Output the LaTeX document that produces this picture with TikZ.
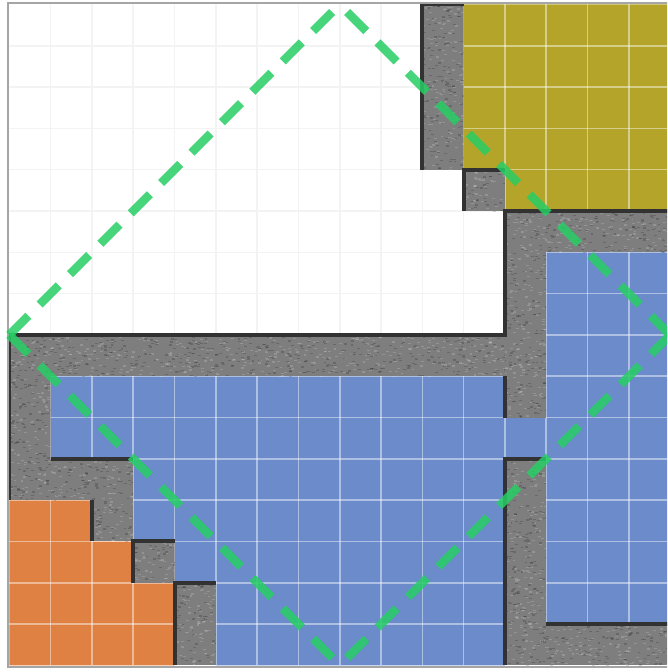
\documentclass[tikz,border=0pt]{standalone}
\definecolor{mapyellow}{RGB}{180,165,42}
\definecolor{mapblue}{RGB}{107,139,203}
\definecolor{maporange}{RGB}{223,129,66}
\definecolor{mapgray}{RGB}{126,126,126}
\definecolor{walldark}{RGB}{50,50,50}
\definecolor{pathgreen}{RGB}{38,206,100}
\definecolor{lightgrid}{RGB}{243,243,243}
\definecolor{framegray}{RGB}{165,165,165}
\newcommand{\graytex}[5]{%
  \begin{scope}
    \clip (#1,#2) rectangle (#3,#4);
    \fill[mapgray] (#1,#2) rectangle (#3,#4);
    \foreach \k in {1,...,#5}{%
      \pgfmathsetmacro{\rx}{#1-0.05+rnd*(#3-#1+0.05)}%
      \pgfmathsetmacro{\ry}{#2+rnd*(#4-#2)}%
      \pgfmathsetmacro{\rs}{rnd}%
      \ifdim\rs pt<0.5pt \def\tc{black}\else\def\tc{white}\fi
      \fill[\tc, opacity=0.17] (\rx,\ry) rectangle ++(0.07,0.03);
    }
  \end{scope}}
\begin{document}
\begin{tikzpicture}[x=1cm,y=-1cm,
  wall/.style={draw=walldark, line width=2.76pt, line join=miter},
  colgrid/.style={draw=white, draw opacity=0.45, line width=1.1pt},
  whitegrid/.style={draw=lightgrid, line width=1.1pt},
  route/.style={draw=pathgreen, draw opacity=0.85, line width=5.86pt, dash pattern=on 18.6pt off 11pt}]
\pgfmathsetseed{11}
\useasboundingbox (-0.2252,-0.109) rectangle (15.925,16.162);
\clip (-0.2252,-0.109) rectangle (15.925,16.162);
\fill[white] (-0.2252,-0.109) rectangle (15.925,16.162);

% coloured areas
\fill[mapyellow] (11,0) -- (16,0) -- (16,5) -- (12,5) -- (12,4) -- (11,4) -- cycle;
\fill[mapblue] (13,6) rectangle (16,15);
\fill[mapblue] (1,9) -- (12,9) -- (12,10) -- (13,10) -- (13,11) -- (12,11) -- (12,16) -- (5,16) -- (5,14) -- (4,14) -- (4,13) -- (3,13) -- (3,11) -- (1,11) -- cycle;
\fill[maporange] (0,12) -- (2,12) -- (2,13) -- (3,13) -- (3,14) -- (4,14) -- (4,16) -- (0,16) -- cycle;

% grid on coloured areas
\foreach \i in {1,...,15}{
  \draw[colgrid] (\i,0) -- (\i,16);
  \draw[colgrid] (0,\i) -- (16,\i);
}
% grid on the empty area
\begin{scope}
  \clip (0,0) -- (10,0) -- (10,4) -- (11,4) -- (11,5) -- (12,5) -- (12,8) -- (0,8) -- cycle;
  \fill[white] (0,0) rectangle (12,8);
  \foreach \i in {1,...,11}{ \draw[whitegrid] (\i,0) -- (\i,8); }
  \foreach \i in {1,...,7}{ \draw[whitegrid] (0,\i) -- (12,\i); }
\end{scope}

% walls (gray)
\graytex{10}{0}{11}{4}{280}
\graytex{11}{4}{12}{5}{70}
\graytex{12}{5}{16}{6}{280}
\graytex{12}{6}{13}{10}{280}
\graytex{0}{8}{12}{9}{840}
\graytex{0}{9}{1}{11}{140}
\graytex{0}{11}{3}{12}{210}
\graytex{2}{12}{3}{13}{70}
\graytex{3}{13}{4}{14}{70}
\graytex{4}{14}{5}{16}{140}
\graytex{12}{11}{13}{16}{350}
\graytex{13}{15}{16}{16}{210}

% dark wall edges
\draw[wall] (10,4) -- (10,0) -- (11,0);
\draw[wall] (11,5) -- (11,4) -- (12,4);
\draw[wall] (0,12) -- (0,8) -- (12,8) -- (12,5) -- (16.2,5);
\draw[wall] (1,11) -- (3,11);
\draw[wall] (2,13) -- (2,12);
\draw[wall] (3,14) -- (3,13) -- (4,13);
\draw[wall] (4,16) -- (4,14) -- (5,14);
\draw[wall] (12,10) -- (12,9);
\draw[wall] (12,16) -- (12,11) -- (13,11);
\draw[wall] (13,15) -- (16.2,15);

% frame
\draw[framegray, line width=1.4pt] (-0.03,-0.03) rectangle (16.03,16.03);

% route
\coordinate (L) at (0,8);
\coordinate (T) at (8,0);
\coordinate (R) at (16,8);
\coordinate (B) at (8,16);
\draw[route] (L) -- (T);
\draw[route] (L) -- (B);
\draw[route] (R) -- (T);
\draw[route] (R) -- (B);
\end{tikzpicture}
\end{document}
